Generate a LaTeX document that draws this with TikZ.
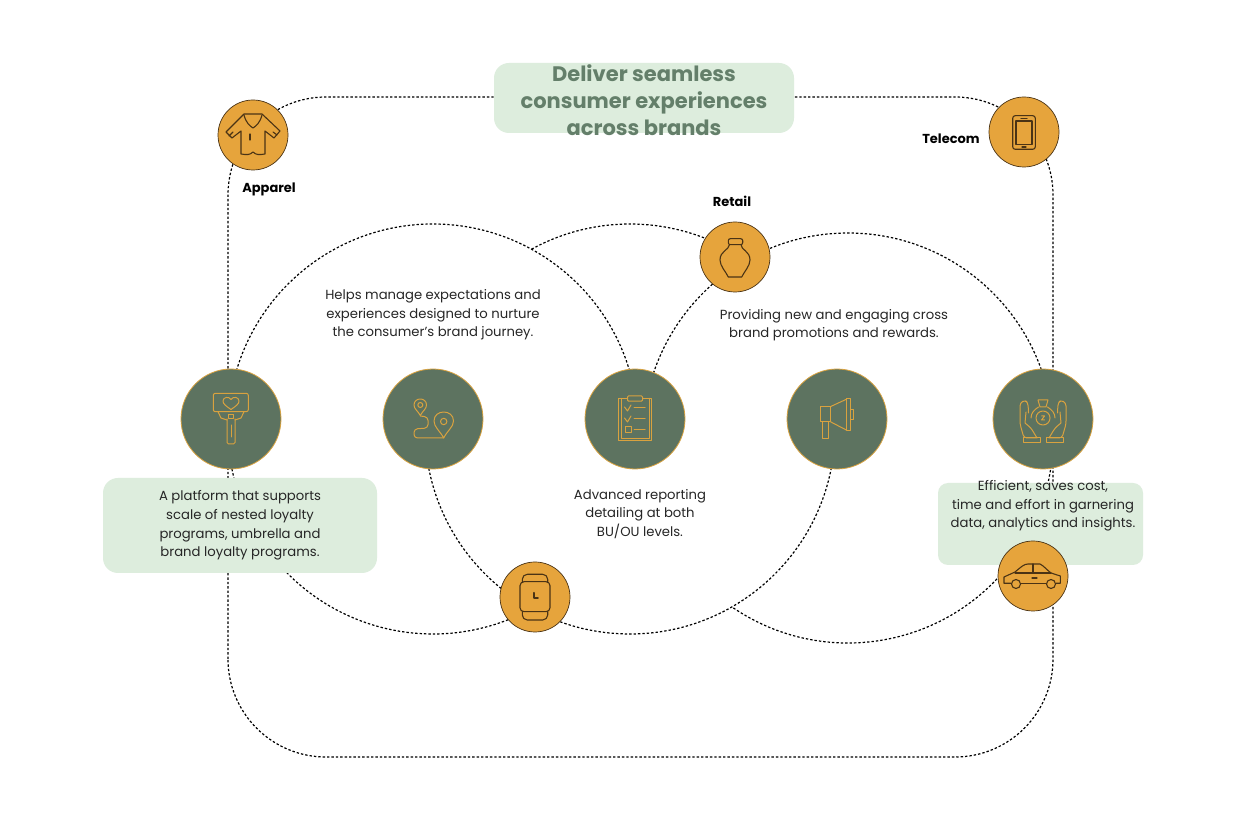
\documentclass[tikz,border=0pt]{standalone}
\usepackage{fontspec}
\setmainfont{Poppins}
\definecolor{softgreen}{HTML}{DDEDDD}
\definecolor{sagegreen}{HTML}{5D7360}
\definecolor{titlegreen}{HTML}{647F6A}
\definecolor{amber}{HTML}{E6A43C}
\definecolor{iconbrown}{HTML}{4A3315}
\definecolor{icongold}{HTML}{D9A23F}
\tikzset{
    dotline/.style={line width=1.2pt, dash pattern=on 2.4pt off 2pt, black},
    greenhub/.style={circle, minimum size=100pt, inner sep=0pt, fill=sagegreen, draw=icongold, line width=0.8pt},
    amberhub/.style={circle, minimum size=70pt, inner sep=0pt, fill=amber, draw=iconbrown, line width=0.7pt},
    softbox/.style={rounded corners=15pt, fill=softgreen, draw=none},
    bodytext/.style={align=center, font=\fontsize{13.2}{18.6}\selectfont, text=black!85},
    hublabel/.style={font=\fontsize{13}{16}\selectfont\bfseries, text=black},
    iconbrownline/.style={draw=iconbrown, line width=1.1pt, line join=round, line cap=round},
    icongoldline/.style={draw=icongold, line width=1pt, line join=round, line cap=round}
}
\begin{document}
\begin{tikzpicture}[x=1pt, y=1pt]
    \useasboundingbox (0,0) rectangle (1250,822);
    \fill[white] (0,0) rectangle (1250,822);

    \coordinate (leftcentre) at (433,393);
    \coordinate (midcentre) at (630,393);
    \coordinate (rightcentre) at (848,384);

    % the three overlapping rings, in pieces
    \draw[dotline] (leftcentre) ++(177:205) arc[start angle=177, end angle=10, radius=205];
    \draw[dotline] (leftcentre) ++(190:205) arc[start angle=190, end angle=300, radius=205];
    \draw[dotline] (midcentre) ++(118.7:205) arc[start angle=118.7, end angle=60, radius=205];
    \draw[dotline] (midcentre) ++(180:205) arc[start angle=180, end angle=360, radius=205];
    \draw[dotline] (rightcentre) ++(180:205) arc[start angle=180, end angle=0, radius=205];
    \draw[dotline] (rightcentre) ++(236:205) arc[start angle=236, end angle=360, radius=205];

    % outer frame
    \draw[dotline, rounded corners=98pt] (228,65) rectangle (1053,725);

    \draw[softbox] (494,759) rectangle (794,689) node[midway, yshift=-2pt, align=center, text=titlegreen, font=\fontsize{21}{27}\selectfont\bfseries] (deliver) {Deliver seamless\\consumer experiences\\across brands};
    \draw[softbox] (103,344) rectangle (377,249) node[midway, bodytext] (platform) {A platform that supports\\scale of nested loyalty\\programs, umbrella and\\brand loyalty programs.};
    \draw[softbox, rounded corners=10pt] (938,339) rectangle (1143,257);
    \node[bodytext] (efficient) at (1043,316) {Efficient, saves cost,\\time and effort in garnering\\data, analytics and insights.};

    \node[bodytext] (manage) at (433,507) {Helps manage expectations and\\experiences designed to nurture\\the consumer’s brand journey.};
    \node[bodytext] (promote) at (834,497) {Providing new and engaging cross\\brand promotions and rewards.};
    \node[bodytext] (report) at (640,308) {Advanced reporting\\detailing at both\\BU/OU levels.};

    \node[greenhub] (loyalty) at (231,403) {};
    \node[greenhub] (journey) at (433,403) {};
    \node[greenhub] (checklist) at (635,403) {};
    \node[greenhub] (megaphone) at (837,403) {};
    \node[greenhub] (savings) at (1043,403) {};

    \node[amberhub] (apparel) at (253,687) {};
    \node[amberhub] (telecom) at (1024,690) {};
    \node[amberhub] (retail) at (735,565) {};
    \node[amberhub] (watch) at (535,225) {};
    \node[amberhub] (car) at (1033,246) {};

    \node[hublabel] (apparellabel) at (269,633) {Apparel};
    \node[hublabel] (telecomlabel) at (951,683) {Telecom};
    \node[hublabel] (retaillabel) at (732,621) {Retail};

    % shirt
    \begin{scope}[shift={(apparel.center)}, iconbrownline]
        \draw (-9,21) -- (9,21) -- (27,4) -- (21,-3) -- (12,4) -- (12,-19) .. controls (6,-20) and (3,-20) .. (0,-17) .. controls (-3,-20) and (-6,-20) .. (-12,-19) -- (-12,4) -- (-21,-3) -- (-27,3) -- cycle;
        \draw (-9,20) .. controls (-7,12) and (-3,9) .. (0,7) .. controls (3,9) and (7,12) .. (9,20);
        \draw (-3,1) -- (-3,-2) (-3,-5) -- (-3,-2);
        \draw (-24,-1) -- (-20,3) (24,0) -- (20,3);
    \end{scope}

    % phone
    \begin{scope}[shift={(telecom.center)}, iconbrownline]
        \draw[rounded corners=2.5pt] (-11.3,16.3) rectangle (11.3,-17.3);
        \draw (-8,11) rectangle (8,-12.3);
        \draw (-3,13.8) -- (3,13.8);
        \draw (-2,-15) -- (2,-15);
    \end{scope}

    % vase
    \begin{scope}[shift={(retail.center)}, iconbrownline]
        \draw[rounded corners=2pt] (-6.7,18.3) rectangle (7.7,12.3);
        \draw (-5.5,12.3) .. controls (-6,7) and (-15,6) .. (-15,-3) .. controls (-15,-9) and (-9,-15) .. (-6.7,-20) -- (6.7,-20) .. controls (9,-15) and (15,-9) .. (15,-3) .. controls (15,6) and (6,7) .. (6,12.3);
    \end{scope}

    % smart watch
    \begin{scope}[shift={(watch.center)}, iconbrownline]
        \draw[rounded corners=4pt] (-15,15.3) rectangle (15,-14.7);
        \draw[rounded corners=5pt] (-12.7,15.3) -- (-12.7,22.7) -- (12.7,22.7) -- (12.7,15.3);
        \draw[rounded corners=5pt] (-12.7,-14.7) -- (-12.7,-23) -- (12.7,-23) -- (12.7,-14.7);
        \draw[line width=1.6pt] (-1,4.3) -- (-1,-1.3) -- (3,-1.3);
    \end{scope}

    % car
    \begin{scope}[shift={(car.center)}, iconbrownline]
        \draw (-22,-7.3) -- (-29,-7.3) -- (-29,-1) -- (-18,4) .. controls (-12,9) and (-9,12) .. (-5,12) -- (7,12) .. controls (11,10) and (15,5) .. (18,3) -- (27.3,0) -- (27.3,-7.3) -- (23,-7.3);
        \draw (-12,-7.3) -- (13,-7.3);
        \draw (-17,-8) circle[radius=4.5];
        \draw (18,-8) circle[radius=4.5];
        \draw (0,12) -- (0,2.7);
        \draw (-18,3) -- (18,3);
        \draw (-1,-2) -- (4,-2);
    \end{scope}

    % heart sign
    \begin{scope}[shift={(loyalty.center)}, icongoldline]
        \draw[rounded corners=2pt] (-17.7,25.7) rectangle (17.3,7.3);
        \draw (0,9.5) .. controls (-5,13) and (-8,15) .. (-8,18) .. controls (-8,22) and (-2,23) .. (0,19.5) .. controls (2,23) and (8,22) .. (8,18) .. controls (8,15) and (5,13) .. (0,9.5);
        \draw (-13,7.3) -- (-10,1) -- (-4,-1) (13,7.3) -- (10,1) -- (4,-1);
        \draw (-2.5,4.5) rectangle (2.5,0);
        \draw[rounded corners=1.5pt] (-4,0) -- (-4,-25) -- (4,-25) -- (4,0);
        \draw (0,-6) -- (0,-18);
    \end{scope}

    % route between pins
    \begin{scope}[shift={(journey.center)}, icongoldline]
        \draw (-12.7,3.5) .. controls (-15,8) and (-19,10) .. (-19,14) .. controls (-19,22) and (-6.5,22) .. (-6.5,14) .. controls (-6.5,10) and (-10.5,8) .. (-12.7,3.5);
        \draw (-12.7,14) circle[radius=2.5];
        \draw (10.7,-19) .. controls (7,-12) and (1,-8) .. (1,-2) .. controls (1,10) and (20.5,10) .. (20.5,-2) .. controls (20.5,-8) and (14,-12) .. (10.7,-19);
        \draw (10.7,-2.5) circle[radius=3.2];
        \draw[rounded corners=3.5pt] (-12.7,3) -- (-5,2) -- (-5,-9) -- (-19,-10) -- (-19,-19) -- (10.7,-19);
    \end{scope}

    % clipboard
    \begin{scope}[shift={(checklist.center)}, icongoldline]
        \draw (-16.7,20.7) rectangle (16.7,-22);
        \draw (-14,20.7) -- (-14,-19.5) -- (14,-19.5) -- (14,20.7);
        \draw[fill=sagegreen, rounded corners=1pt] (-7.5,23) rectangle (7.5,17.8);
        \draw (-10.5,12) -- (-7.5,8) -- (-4,14);
        \draw (-10.5,1) -- (-7.5,-3) -- (-4,3);
        \draw (-10,-8) rectangle (-4,-14);
        \draw (-1,11.5) -- (10,11.5) (-1,0.5) -- (10,0.5) (-1,-11) -- (10,-11);
    \end{scope}

    % megaphone
    \begin{scope}[shift={(megaphone.center)}, icongoldline]
        \draw (-16.7,12.3) rectangle (-6.7,-2.7);
        \draw (-6.7,12.3) -- (9.3,19.7) (-6.7,-2.7) -- (9.3,-11);
        \draw (9.3,20) rectangle (13.3,-11.7);
        \draw (13.3,9) rectangle (16.7,-0.3);
        \draw (-14.3,-2.7) rectangle (-8.3,-20);
    \end{scope}

    % hands holding a coin
    \begin{scope}[shift={(savings.center)}, icongoldline]
        \draw (0,1) circle[radius=7];
        \draw (-4.5,12) .. controls (-9,9) and (-12,6) .. (-12,1) (4.5,12) .. controls (9,9) and (12,6) .. (12,1);
        \draw (-5,19) -- (5,19) -- (3,12) -- (-3,12) -- cycle;
        \draw (-1.5,3) -- (1.5,3) -- (-1.5,-1) -- (1.5,-1);
        \draw[rounded corners=3pt] (-6,-19) -- (-12,-9) -- (-18,-4) (-18,-4) -- (-17,7) (-6,-19) -- (-19,-19) -- (-23,-5) -- (-23,16) -- (-18,19) -- (-15,16) -- (-14.5,6);
        \draw[rounded corners=3pt] (6,-19) -- (12,-9) -- (18,-4) (18,-4) -- (17,7) (6,-19) -- (19,-19) -- (23,-5) -- (23,16) -- (18,19) -- (15,16) -- (14.5,6);
        \draw (-20,-19) rectangle (-3,-24);
        \draw (20,-19) rectangle (3,-24);
    \end{scope}
\end{tikzpicture}
\end{document}
